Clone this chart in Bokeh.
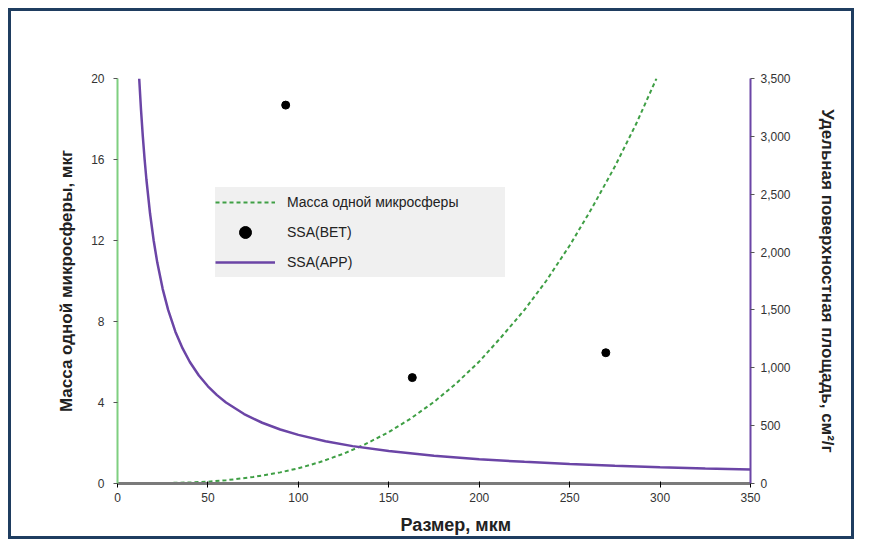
from bokeh.plotting import figure
from bokeh.models import Range1d, LinearAxis, FixedTicker, NumeralTickFormatter, Legend, LegendItem, Title
from bokeh.embed import file_html
from bokeh.resources import INLINE

# ---- data ----
x_ticks = [0, 50, 100, 150, 200, 250, 300, 350]
mass_ticks = [0, 4, 8, 12, 16, 20]
ssa_ticks = [0, 500, 1000, 1500, 2000, 2500, 3000, 3500]

mass_size = [0, 20, 40, 50, 60, 75, 90, 100, 112, 125, 137, 150, 162, 175, 187, 200,
             212, 225, 237, 250, 262, 275, 287, 298]
mass_val = [0, 0.01, 0.05, 0.09, 0.16, 0.32, 0.55, 0.75, 1.06, 1.47, 1.94, 2.54, 3.2,
            4.03, 4.92, 6.02, 7.21, 8.57, 10.0, 11.75, 13.55, 15.65, 17.8, 20.0]

app_size = [12, 13, 14, 15, 16, 18, 20, 22, 25, 28, 32, 36, 40, 45, 50, 55, 60, 70, 80,
            90, 100, 115, 130, 150, 175, 200, 225, 250, 275, 300, 325, 350]
app_ssa = [3500, 3230, 3000, 2800, 2625, 2333, 2100, 1909, 1680, 1500, 1312, 1167, 1050,
           933, 840, 764, 700, 600, 525, 467, 420, 365, 323, 280, 240, 210, 187, 168,
           153, 140, 129, 120]

bet_size = [93, 163, 270]
bet_ssa = [3270, 915, 1130]

label_mass = "Масса одной микросферы"
label_bet = "SSA(BET)"
label_app = "SSA(APP)"
x_title = "Размер, мкм"
left_title = "Масса одной микросферы, мкг"
right_title = "Удельная поверхностная площадь, см²/г"

FONT = "Liberation Sans"
GREEN = "#3f9f45"
PURPLE = "#6b45a6"

# canvas sits inside an 8px margin + 3px frame border (canvas origin at page 11,11)
p = figure(width=846, height=531, output_backend="svg", toolbar_location=None,
           x_range=Range1d(0, 350), y_range=Range1d(0, 20),
           min_border_left=106, min_border_right=107, min_border_top=67, min_border_bottom=58)
p.styles = {"border": "3px solid #1f3d60", "margin": "8px 0 0 8px"}
p.extra_y_ranges = {"ssa": Range1d(0, 3500)}
p.xgrid.visible = False
p.ygrid.visible = False
p.outline_line_color = None
p.background_fill_color = "white"
p.border_fill_color = "white"

def style_ticks(ax):
    ax.major_tick_out = 4
    ax.major_tick_in = 0
    ax.minor_tick_line_color = None
    ax.major_label_text_font = FONT
    ax.major_label_text_font_size = "12px"
    ax.major_label_text_color = "#333333"
    ax.axis_label_text_font = FONT
    ax.axis_label_text_font_style = "bold"
    ax.axis_label_text_color = "#222222"

# axes
xa = p.xaxis[0]
xa.ticker = FixedTicker(ticks=x_ticks)
style_ticks(xa)
xa.axis_line_color = "#7a7a7a"
xa.axis_line_width = 3
xa.major_tick_line_color = "black"
xa.major_tick_in = 2
xa.major_label_standoff = 5

ya = p.yaxis[0]
ya.ticker = FixedTicker(ticks=mass_ticks)
style_ticks(ya)
ya.axis_label = left_title
ya.axis_line_color = "#7fcf80"
ya.axis_line_width = 2
ya.major_tick_line_color = "#555555"
ya.major_label_standoff = 9
ya.axis_label_text_font_size = "17px"
ya.axis_label_standoff = 12

ra = LinearAxis(y_range_name="ssa", ticker=FixedTicker(ticks=ssa_ticks),
                formatter=NumeralTickFormatter(format="0,0"))
style_ticks(ra)
ra.axis_line_color = PURPLE
ra.axis_line_width = 2
ra.major_tick_line_color = "#555555"
ra.major_label_standoff = 6
ra.axis_label = right_title
ra.axis_label_text_font_size = "17px"
ra.axis_label_standoff = 24
p.add_layout(ra, "right")

xt = Title(text=x_title, align="left", offset=283, standoff=16,
           text_font=FONT, text_font_size="18px", text_font_style="bold", text_color="#222222")
p.add_layout(xt, "below")

# glyphs
r_mass = p.line(mass_size, mass_val, line_color=GREEN, line_width=2, line_dash="4 3")
r_app = p.line(app_size, app_ssa, y_range_name="ssa", line_color=PURPLE, line_width=2.5)
r_bet = p.scatter(bet_size, bet_ssa, y_range_name="ssa", size=8, color="black")

legend = Legend(items=[LegendItem(label=label_mass, renderers=[r_mass]),
                       LegendItem(label=label_bet, renderers=[r_bet]),
                       LegendItem(label=label_app, renderers=[r_app])],
                location=(98, 206))
legend.background_fill_color = "#f0f0f0"
legend.background_fill_alpha = 1
legend.border_line_color = None
legend.padding = 0
legend.margin = 0
legend.spacing = 0
legend.glyph_width = 60
legend.glyph_height = 30
legend.label_height = 30
legend.label_width = 218
legend.label_standoff = 12
legend.label_text_font = FONT
legend.label_text_font_size = "14px"
legend.label_text_color = "#222222"
p.add_layout(legend, "center")

open("out.html", "w").write(file_html(p, INLINE))
